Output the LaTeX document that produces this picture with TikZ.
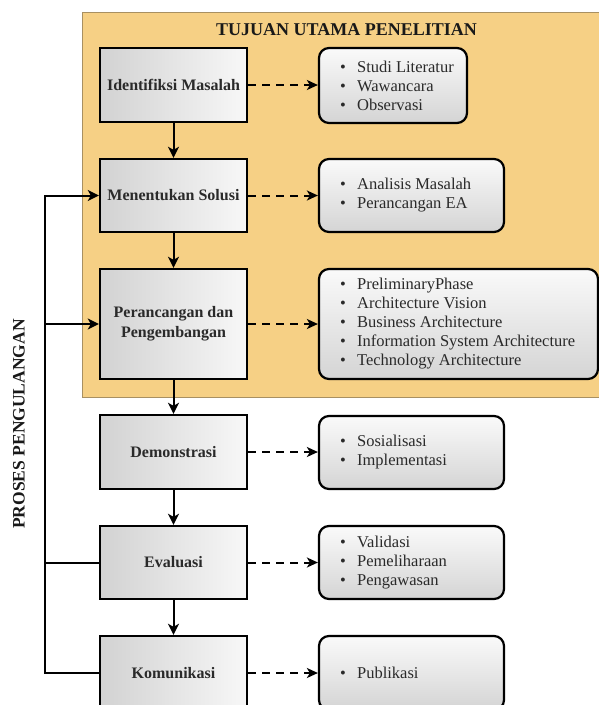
\documentclass[tikz,border=0pt]{standalone}
\usepackage{fontspec}
\setmainfont{Liberation Serif}
\usetikzlibrary{arrows.meta,positioning}
\definecolor{orangebg}{HTML}{F6D085}
\definecolor{orangeedge}{HTML}{A89062}
\definecolor{txtgray}{HTML}{2A2A2A}
\definecolor{boxgray}{HTML}{D2D2D2}
\tikzset{
  stepbox/.style={draw=black, line width=2.4pt, left color=boxgray, right color=white!97!black,
    minimum width=147pt, inner sep=2pt, align=center, text=txtgray,
    font=\bfseries\fontsize{16}{20}\selectfont},
  listbox/.style={draw=black, line width=2.2pt, rounded corners=10pt, top color=white!98!black,
    bottom color=boxgray!95!white, inner sep=0pt},
  listtext/.style={anchor=west, inner sep=0pt, align=left, text=txtgray,
    font=\fontsize{16.5}{19}\selectfont},
  flow/.style={line width=2pt, -{Stealth[length=11pt,width=11pt,inset=3pt]}},
  dflow/.style={line width=2pt, dash pattern=on 8pt off 6pt, -{Stealth[length=11pt,width=10pt,inset=3pt]}},
  plain/.style={line width=2pt},
}
\newcommand{\itm}[1]{\makebox[17pt][l]{\textbullet}#1}
\begin{document}
\begin{tikzpicture}[x=1pt,y=-1pt]
\useasboundingbox (0,0) rectangle (599,705);
\fill[white] (0,0) rectangle (599,705);
\begin{scope}
\clip (0,0) rectangle (599,705);
\fill[orangebg] (82,12) rectangle (600,397);
\draw[orangeedge, line width=0.8pt] (600,12) -- (82,12) -- (82,397) -- (600,397);
\node[font=\bfseries\fontsize{18}{20}\selectfont, text=black!90] (title) at (346.5,30) {TUJUAN UTAMA PENELITIAN};

% left process boxes
\node[stepbox, minimum height=74pt] (idm) at (173.5,85) {Identifiksi Masalah};
\node[stepbox, minimum height=73pt] (men) at (173.5,195.5) {Menentukan Solusi};
\node[stepbox, minimum height=110pt] (per) at (173.5,324) {Perancangan dan\\Pengembangan};
\node[stepbox, minimum height=74pt] (dem) at (173.5,452) {Demonstrasi};
\node[stepbox, minimum height=73pt] (eva) at (173.5,562.5) {Evaluasi};
\node[stepbox, minimum height=74pt] (kom) at (173.5,673) {Komunikasi};

% right list boxes
\node[listbox, minimum width=148pt, minimum height=75pt] (r1) at (393,85.5) {};
\node[listbox, minimum width=185pt, minimum height=73pt] (r2) at (411.5,195.5) {};
\node[listbox, minimum width=279pt, minimum height=110pt] (r3) at (458.5,324) {};
\node[listbox, minimum width=185pt, minimum height=73pt] (r4) at (411.5,452.5) {};
\node[listbox, minimum width=185pt, minimum height=73pt] (r5) at (411.5,562.5) {};
\node[listbox, minimum width=185pt, minimum height=74pt] (r6) at (411.5,673) {};

\node[listtext] (t1) at ([xshift=22pt]r1.west) {\itm{Studi Literatur}\\\itm{Wawancara}\\\itm{Observasi}};
\node[listtext] (t2) at ([xshift=22pt]r2.west) {\itm{Analisis Masalah}\\\itm{Perancangan EA}};
\node[listtext] (t3) at ([xshift=22pt]r3.west) {\itm{PreliminaryPhase}\\\itm{Architecture Vision}\\\itm{Business Architecture}\\\itm{Information System Architecture}\\\itm{Technology Architecture}};
\node[listtext] (t4) at ([xshift=22pt]r4.west) {\itm{Sosialisasi}\\\itm{Implementasi}};
\node[listtext] (t5) at ([xshift=22pt]r5.west) {\itm{Validasi}\\\itm{Pemeliharaan}\\\itm{Pengawasan}};
\node[listtext] (t6) at ([xshift=22pt]r6.west) {\itm{Publikasi}};

% vertical flow
\draw[flow] (idm) -- (men);
\draw[flow] (men) -- (per);
\draw[flow] (per) -- (dem);
\draw[flow] (dem) -- (eva);
\draw[flow] (eva) -- (kom);

% dashed links
\draw[dflow] (idm.east) -- (idm.east -| r1.west);
\draw[dflow] (men.east) -- (r2.west);
\draw[dflow] (per.east) -- (r3.west);
\draw[dflow] (dem.east) -- (dem.east -| r4.west);
\draw[dflow] (eva.east) -- (r5.west);
\draw[dflow] (kom.east) -- (r6.west);

% loop
\coordinate (lt) at (45,195.5);
\draw[flow] (kom.west) -- (kom.west -| lt) |- (men.west);
\draw[plain] (eva.west) -- (eva.west -| lt);
\draw[flow] (per.west -| lt) -- (per.west);

\node[rotate=90, font=\bfseries\fontsize{17.5}{20}\selectfont, text=black!90] (proses) at (19,424) {PROSES PENGULANGAN};
\end{scope}
\end{tikzpicture}
\end{document}
